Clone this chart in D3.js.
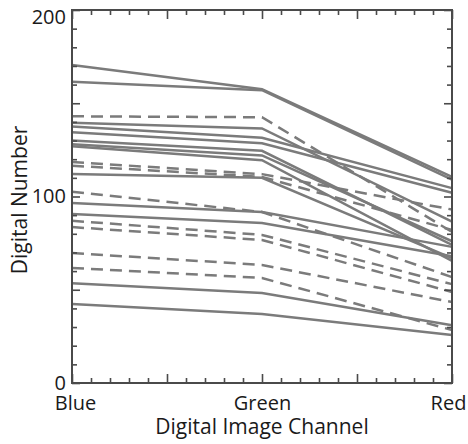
<!DOCTYPE html>
<html>
<head>
<meta charset="utf-8">
<script src="https://cdn.jsdelivr.net/npm/d3@7"></script>
<style>
  body { margin: 0; background: #fff; }
  svg text { font-family: "Open Sans", sans-serif; fill: #1a1a1a; }
</style>
</head>
<body>
<div id="chart"></div>
<script>
// channels on the x axis
var channels = ["Blue", "Green", "Red"];
var yLabels = [0, 100, 200];

// digital numbers per sample: [Blue, Green, Red]
var solidLines = [
    [170.5, 157.5, 110.5],
    [161.5, 157, 109],
    [139.5, 136.5, 86.5],
    [137.5, 131.5, 104.5],
    [134.5, 128.5, 102],
    [130, 124.5, 74],
    [128, 122, 76],
    [127, 119.5, 65.5],
    [112, 110, 67],
    [96.5, 91.7, 73],
    [90.6, 85.8, 68],
    [53.5, 48.3, 31],
    [42.4, 37, 25.7]
];
var dashedLines = [
    [143, 142.5, 81],
    [118.5, 112, 93],
    [116.5, 110.5, 82],
    [102.5, 91.7, 56.8],
    [87, 79.4, 53],
    [83.6, 76.7, 48.8],
    [69.7, 63.3, 43.4],
    [61.7, 56.3, 28.4]
];

var width = 468, height = 444;
var margin = { left: 72, right: 452, top: 10, bottom: 383 };
var lineColor = '#7b7b7b', axisColor = '#4a4a4a';

var x = d3.scaleLinear().domain([0, channels.length - 1]).range([margin.left, margin.right]);
var y = d3.scaleLinear().domain([0, 200]).range([margin.bottom, margin.top]);

var svg = d3.select('#chart').append('svg')
    .attr('width', width)
    .attr('height', height);

var line = d3.line()
    .x(function(d, i) { return x(i); })
    .y(function(d) { return y(d); });

svg.selectAll('path.dashed')
    .data(dashedLines)
    .enter().append('path')
    .attr('class', 'dashed')
    .attr('d', line)
    .attr('fill', 'none')
    .attr('stroke', lineColor)
    .attr('stroke-width', 2.5)
    .attr('stroke-dasharray', '12,7');

svg.selectAll('path.solid')
    .data(solidLines)
    .enter().append('path')
    .attr('class', 'solid')
    .attr('d', line)
    .attr('fill', 'none')
    .attr('stroke', lineColor)
    .attr('stroke-width', 2.5);

// minor ticks every 0.1 channel / 10 DN, longer ones every half step
var xTicks = d3.range(0, 21).map(function(i) { return i / 10; });
var yTicks = d3.range(0, 21).map(function(i) { return i * 10; });
function isMajorX(d) { return Math.abs(d * 2 - Math.round(d * 2)) < 1e-6; }
function isMajorY(d) { return d % 50 === 0; }

function styleAxis(g) {
    g.select('.domain').remove();
    g.selectAll('line').attr('stroke', axisColor).attr('stroke-width', 1.6);
    g.selectAll('text').style('font-size', '20px').attr('fill', '#1a1a1a');
}

var xAxis = svg.append('g')
    .attr('transform', 'translate(0,' + margin.bottom + ')')
    .call(d3.axisBottom(x).tickValues(xTicks).tickSize(-5).tickPadding(13)
        .tickFormat(function(d) { return Number.isInteger(d) ? channels[d] : ''; }))
    .call(styleAxis);
xAxis.selectAll('.tick line').filter(isMajorX).attr('y2', -9);
xAxis.selectAll('.tick text').attr('dx', function(d) { return d === 0 ? 3 : (d === 2 ? -4 : 0); });

var xTop = svg.append('g')
    .attr('transform', 'translate(0,' + margin.top + ')')
    .call(d3.axisTop(x).tickValues(xTicks).tickSize(-5).tickFormat(''))
    .call(styleAxis);
xTop.selectAll('.tick line').filter(isMajorX).attr('y2', 9);

var yAxis = svg.append('g')
    .attr('transform', 'translate(' + margin.left + ',0)')
    .call(d3.axisLeft(y).tickValues(yTicks).tickSize(-5).tickPadding(6)
        .tickFormat(function(d) { return yLabels.indexOf(d) >= 0 ? d : ''; }))
    .call(styleAxis);
yAxis.selectAll('.tick line').filter(isMajorY).attr('x2', 8);
yAxis.selectAll('.tick text').attr('dy', function(d) { return d === 200 ? '0.65em' : '0.32em'; });

var yRight = svg.append('g')
    .attr('transform', 'translate(' + margin.right + ',0)')
    .call(d3.axisRight(y).tickValues(yTicks).tickSize(-5).tickFormat(''))
    .call(styleAxis);
yRight.selectAll('.tick line').filter(isMajorY).attr('x2', -8);

svg.append('rect')
    .attr('x', margin.left).attr('y', margin.top)
    .attr('width', margin.right - margin.left).attr('height', margin.bottom - margin.top)
    .attr('fill', 'none')
    .attr('stroke', axisColor)
    .attr('stroke-width', 2);

svg.append('text')
    .attr('x', 262).attr('y', 434)
    .attr('text-anchor', 'middle')
    .style('font-size', '21px')
    .text('Digital Image Channel');

svg.append('text')
    .attr('transform', 'translate(27,200) rotate(-90)')
    .attr('text-anchor', 'middle')
    .style('font-size', '21px')
    .text('Digital Number');
</script>
</body>
</html>
